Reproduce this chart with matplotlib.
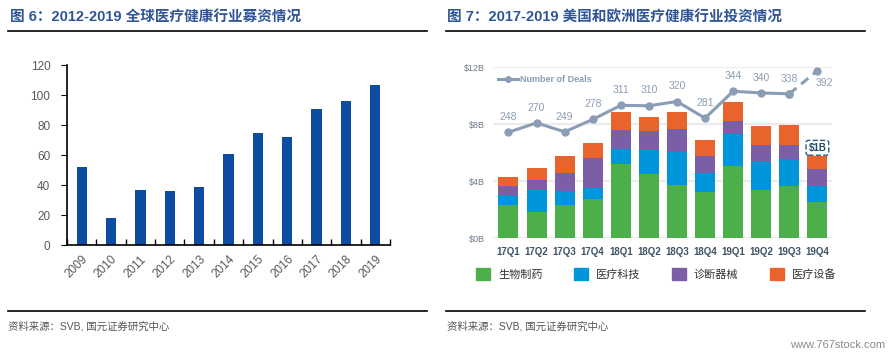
# 全球 / 美欧医疗健康行业募资与投资情况

import numpy as np
import matplotlib.pyplot as plt
from matplotlib.lines import Line2D
from matplotlib.patches import Patch

plt.rcParams['font.family'] = ['Liberation Sans', 'Noto Sans CJK SC']

# 左图数据 (十亿美元)
years = ['2009', '2010', '2011', '2012', '2013', '2014', '2015', '2016', '2017', '2018', '2019']
funding = [52, 18, 37, 36, 39, 61, 75, 72, 91, 96, 107]

# 右图数据
quarters = ['17Q1', '17Q2', '17Q3', '17Q4', '18Q1', '18Q2', '18Q3', '18Q4', '19Q1', '19Q2', '19Q3', '19Q4']
biopharma = [2.32, 1.85, 2.36, 2.76, 5.22, 4.54, 3.77, 3.25, 5.08, 3.39, 3.67, 2.57]
healthtech = [0.68, 1.54, 0.94, 0.77, 1.05, 1.66, 2.31, 1.33, 2.24, 1.99, 1.87, 1.13]
dx_tools = [0.68, 0.70, 1.26, 2.08, 1.33, 1.33, 1.62, 1.20, 0.94, 1.17, 0.99, 1.14]
device = [0.61, 0.87, 1.24, 1.08, 1.29, 0.98, 1.19, 1.10, 1.31, 1.36, 1.40, 0.94]
deals = [248, 270, 249, 278, 311, 310, 320, 281, 344, 340, 338, 392]
sector_names = ['生物制药', '医疗科技', '诊断器械', '医疗设备']
sector_colors = ['#4DAF4A', '#0096DC', '#7B5EA8', '#E8642C']

W, H = 893, 356
fig = plt.figure(figsize=(W / 100, H / 100), dpi=100)

def fx(px):
    return px / W

def fy(py):
    return 1 - py / H

title_blue = '#2F5597'

# ---- 标题和分隔线 ----
fig.text(fx(10), fy(18), '图 6：2012-2019 全球医疗健康行业募资情况', fontsize=10.5,
         fontweight='bold', color=title_blue, va='center')
fig.text(fx(447), fy(18), '图 7：2017-2019 美国和欧洲医疗健康行业投资情况', fontsize=10.5,
         fontweight='bold', color=title_blue, va='center')
for x0, x1 in [(8, 427), (446, 865)]:
    fig.add_artist(Line2D([fx(x0), fx(x1)], [fy(31), fy(31)], color='black', lw=1.2))
    fig.add_artist(Line2D([fx(x0), fx(x1)], [fy(311), fy(311)], color='black', lw=1.2))
fig.text(fx(8), fy(326), '资料来源：SVB, 国元证券研究中心', fontsize=7.5, color='#555555', va='center')
fig.text(fx(447), fy(326), '资料来源：SVB, 国元证券研究中心', fontsize=7.5, color='#555555', va='center')
fig.text(fx(885), fy(345), 'www.767stock.com', fontsize=8, color='#8a8a8a', va='center', ha='right')

# ---- 左图 ----
ax = fig.add_axes([fx(67), fy(245), fx(390 - 67), (245 - 65) / H])
x = np.arange(len(years))
ax.bar(x, funding, width=0.35, color='#0D4DA1')
ax.set_xlim(-0.5, len(years) - 0.5)
ax.set_ylim(0, 120)
ax.set_yticks(range(0, 121, 20))
ax.set_xticks(x)
ax.set_xticklabels(years, rotation=45, ha='right', rotation_mode='anchor')
ax.set_xticks(np.arange(-0.5, len(years), 1), minor=True)
ax.tick_params(axis='x', which='major', length=0, pad=6, labelsize=8.5, labelcolor='#595959')
ax.tick_params(axis='x', which='minor', length=4, direction='in', width=1)
ax.tick_params(axis='y', length=4, direction='out', labelsize=8.5, labelcolor='#595959', pad=8)
for s in ['top', 'right']:
    ax.spines[s].set_visible(False)
for s in ['left', 'bottom']:
    ax.spines[s].set_linewidth(1.2)

# ---- 右图 ----
ax2 = fig.add_axes([fx(493), fy(238.3), fx(832 - 493), 171 / H])
q = np.arange(len(quarters))
bottom = np.zeros(len(quarters))
for vals, c in zip([biopharma, healthtech, dx_tools, device], sector_colors):
    ax2.bar(q, vals, bottom=bottom, width=0.71, color=c, zorder=2)
    bottom += np.array(vals)
ax2.set_xlim(-0.55, len(quarters) - 0.48)
ax2.set_ylim(0, 12)
ax2.set_yticks([0, 4, 8, 12])
ax2.set_yticklabels(['$0B', '$4B', '$8B', '$12B'])
ax2.grid(axis='y', color='#EBEBEB', lw=1.5, zorder=0)
ax2.set_xticks(q)
ax2.set_xticklabels(quarters, fontweight='bold')
ax2.tick_params(axis='x', length=0, labelsize=7, labelcolor='#3D5366', pad=6)
ax2.tick_params(axis='y', length=0, labelsize=6.5, labelcolor='#6B7B8A', pad=6)
for s in ax2.spines.values():
    s.set_visible(False)

# 交易数量折线 (次坐标轴)
line_c = '#8A9DB5'
ax3 = ax2.twinx()
ax3.set_ylim(0, 400)
ax3.axis('off')
ax3.plot(q[:-1], deals[:-1], color=line_c, lw=2.2, marker='o', ms=5, zorder=5)
ax3.plot(q[-2:], deals[-2:], color=line_c, lw=2.2, ls=(0, (3, 2)), marker='o', ms=5, zorder=5)
for i, d in enumerate(deals):
    if i == len(deals) - 1:
        ax3.annotate(str(d), (q[i], d), xytext=(5, -9), textcoords='offset points',
                     ha='center', va='center', fontsize=7.5, color=line_c)
    else:
        ax3.annotate(str(d), (q[i], d), xytext=(0, 11), textcoords='offset points',
                     ha='center', va='center', fontsize=7.5, color=line_c)
ax3.legend(handles=[Line2D([], [], color=line_c, lw=2.2, marker='o', ms=4)],
           labels=['Number of Deals'], loc='upper left', bbox_to_anchor=(-0.01, 1.0),
           frameon=False, fontsize=6.5, handlelength=2.2, handletextpad=0.3,
           labelcolor=line_c, prop={'weight': 'bold', 'size': 6.5})

ax2.text(q[-1], 6.35, '$1B', ha='center', va='center', fontsize=7, fontweight='bold',
         color='#1F4E6B', zorder=6,
         bbox=dict(boxstyle='round,pad=0.25', fc='white', ec='#2F5F7F', ls='--', lw=1))

fig.legend(handles=[Patch(color=c) for c in sector_colors], labels=sector_names,
           loc='center left', bbox_to_anchor=(fx(466), fy(274)), ncol=4, frameon=False,
           fontsize=8, labelcolor='#333333', handlelength=1.3, handleheight=1.3,
           handletextpad=0.7, columnspacing=2.8)

fig.savefig('out.png', dpi=100)
